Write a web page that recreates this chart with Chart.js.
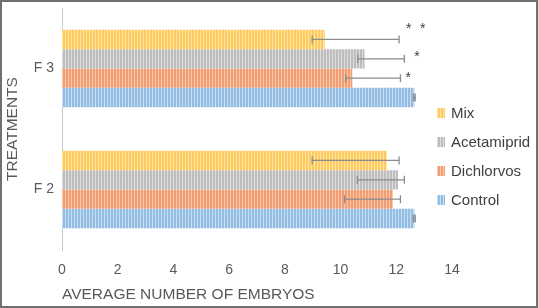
<!DOCTYPE html>
<html>
<head>
<meta charset="utf-8">
<script src="https://cdn.jsdelivr.net/npm/chart.js@4/dist/chart.umd.min.js"></script>
<style>
  html, body { margin: 0; padding: 0; background: #ffffff; }
  #wrap { width: 538px; height: 308px; position: relative; }
</style>
</head>
<body>
<div id="wrap"><canvas id="grafico"></canvas></div>
<script>
// datos
const generaciones = ["F 3", "F 2"];
const tratamientos = ["Mix", "Acetamiprid", "Dichlorvos", "Control"];
const mixVals = [9.43, 11.66];
const acetamipridVals = [10.86, 12.06];
const dichlorvosVals = [10.42, 11.88];
const controlVals = [12.65, 12.65];
// extremos de las barras de error
const mixErr = [[8.98, 12.1], [8.98, 12.1]];
const acetamipridErr = [[10.62, 12.29], [10.6, 12.29]];
const dichlorvosErr = [[10.18, 12.15], [10.14, 12.15]];
const controlErr = [[12.62, 12.68], [12.62, 12.68]];
// asteriscos de significancia
const mixStars = ["* *", ""];
const acetamipridStars = ["*", ""];
const dichlorvosStars = ["*", ""];
const controlStars = ["", ""];
const xTicks = [0, 2, 4, 6, 8, 10, 12, 14];

const baseColors = ["#fdcb5e", "#bdbdbd", "#f29d72", "#94bde3"];
const lightColors = ["#ffe4a6", "#dedede", "#f9c9ae", "#c7ddf3"];
// desplazamiento de los asteriscos respecto al extremo de la barra de error
const starDx = [7, 10, 5, 0];
const starDy = [-14, -6, -4, 0];

// patrón de rayas verticales como en la figura original
function stripes(base, light) {
    const c = document.createElement("canvas");
    c.width = 3; c.height = 4;
    const g = c.getContext("2d");
    g.fillStyle = base; g.fillRect(0, 0, 3, 4);
    g.fillStyle = light; g.fillRect(2, 0, 1, 4);
    return g.createPattern(c, "repeat");
}

const valores = [mixVals, acetamipridVals, dichlorvosVals, controlVals];
const errores = [mixErr, acetamipridErr, dichlorvosErr, controlErr];
const estrellas = [mixStars, acetamipridStars, dichlorvosStars, controlStars];

const FONT = "'Liberation Sans', Arial, sans-serif";

const extras = {
    id: "extras",
    afterDatasetsDraw(chart) {
        const ctx = chart.ctx;
        const xs = chart.scales.x;
        ctx.save();
        chart.data.datasets.forEach((ds, di) => {
            const meta = chart.getDatasetMeta(di);
            meta.data.forEach((bar, i) => {
                const e = errores[di][i];
                const y = bar.y;
                const x1 = xs.getPixelForValue(e[0]);
                const x2 = xs.getPixelForValue(e[1]);
                ctx.strokeStyle = "#8c8c8c";
                ctx.lineWidth = 1.3;
                ctx.beginPath();
                ctx.moveTo(x1, y); ctx.lineTo(x2, y);
                ctx.moveTo(x1, y - 4); ctx.lineTo(x1, y + 4);
                ctx.moveTo(x2, y - 4); ctx.lineTo(x2, y + 4);
                ctx.stroke();
                const s = estrellas[di][i];
                if (s) {
                    ctx.fillStyle = "#404040";
                    ctx.font = "14px " + FONT;
                    ctx.textAlign = "left";
                    ctx.textBaseline = "middle";
                    s.split(" ").forEach((st, k) => {
                        ctx.fillText(st, x2 + starDx[di] + k * 14, y + starDy[di] + 4);
                    });
                }
            });
        });
        ctx.restore();
    },
    afterDraw(chart) {
        const ctx = chart.ctx;
        ctx.save();
        // leyenda a la derecha
        tratamientos.forEach((t, i) => {
            const y = 113 + i * 29;
            ctx.fillStyle = chart.data.datasets[i].backgroundColor;
            ctx.fillRect(437, y - 5, 8, 10);
            ctx.fillStyle = "#404040";
            ctx.font = "15px " + FONT;
            ctx.textAlign = "left";
            ctx.textBaseline = "middle";
            ctx.fillText(t, 451, y + 1);
        });
        // marco
        ctx.strokeStyle = "#707070";
        ctx.lineWidth = 2;
        ctx.strokeRect(1, 1, chart.width - 2, chart.height - 2);
        ctx.restore();
    }
};

const canvas = document.getElementById("grafico");
new Chart(canvas.getContext("2d"), {
    type: "bar",
    data: {
        labels: generaciones,
        datasets: tratamientos.map((t, i) => ({
            label: t,
            data: valores[i],
            backgroundColor: stripes(baseColors[i], lightColors[i]),
            borderWidth: 0,
            barPercentage: 1,
            categoryPercentage: 0.64
        }))
    },
    options: {
        responsive: true,
        maintainAspectRatio: false,
        animation: false,
        indexAxis: "y",
        layout: { padding: { left: 3, right: 86, top: 8, bottom: 0 } },
        plugins: {
            legend: { display: false },
            tooltip: { enabled: false }
        },
        scales: {
            x: {
                min: 0,
                max: 14,
                afterBuildTicks: s => { s.ticks = xTicks.map(v => ({ value: v })); },
                afterFit: s => { s.height = 58; s.paddingLeft = 0; s.paddingRight = 0; },
                grid: { display: false, drawTicks: false },
                border: { display: false },
                ticks: { color: "#595959", font: { family: FONT, size: 14 }, padding: 12 },
                title: {
                    display: true,
                    text: "AVERAGE NUMBER OF EMBRYOS",
                    color: "#595959",
                    font: { family: FONT, size: 15.5 },
                    align: "start",
                    padding: { top: 0, bottom: 4 }
                }
            },
            y: {
                afterFit: s => { s.width = 59; s.paddingTop = 0; s.paddingBottom = 0; },
                grid: { display: false, drawTicks: false },
                border: { display: true, color: "#c8c8c8", width: 1 },
                ticks: { color: "#595959", font: { family: FONT, size: 14 }, padding: 8 },
                title: {
                    display: true,
                    text: "TREATMENTS",
                    color: "#595959",
                    font: { family: FONT, size: 15.5 },
                    padding: 0
                }
            }
        }
    },
    plugins: [extras]
});
</script>
</body>
</html>
